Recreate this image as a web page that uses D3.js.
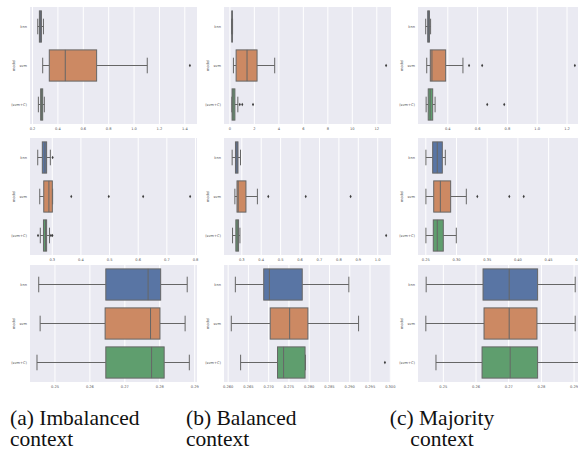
<!DOCTYPE html>
<html>
<head>
<meta charset="utf-8">
<script src="https://cdn.jsdelivr.net/npm/d3@7/dist/d3.min.js"></script>
<style>
  html, body { margin: 0; padding: 0; background: #ffffff; }
  svg { display: block; }
</style>
</head>
<body>
<svg id="chart" width="578" height="453"></svg>
<script>
// Categories shown on every panel's y axis
const categories = ["knn", "svm", "(svm+C)"];
const axisTitle = "model";
const palette = ["#5975a4", "#cc8963", "#5f9e6e"];

// Box statistics per category: [lower whisker, Q1, median, Q3, upper whisker]
// Row 1
const statsA1 = [[0.245, 0.258, 0.265, 0.274, 0.290], [0.284, 0.336, 0.462, 0.709, 1.108], [0.250, 0.268, 0.276, 0.284, 0.297]];
const fliersA1 = [[], [1.444], []];
const ticksA1 = [0.2, 0.4, 0.6, 0.8, 1.0, 1.2, 1.4];
const domainA1 = [0.184, 1.50];

const statsB1 = [[0.18, 0.20, 0.22, 0.24, 0.26], [0.33, 0.55, 1.44, 2.26, 3.70], [0.20, 0.22, 0.30, 0.45, 0.69]];
const fliersB1 = [[], [12.8], [0.85, 1.05, 1.93]];
const ticksB1 = [0, 2, 4, 6, 8, 10, 12];
const domainB1 = [-0.44, 13.2];

const statsC1 = [[0.255, 0.269, 0.272, 0.280, 0.288], [0.262, 0.286, 0.297, 0.389, 0.505], [0.258, 0.272, 0.285, 0.302, 0.318]];
const fliersC1 = [[], [0.546, 0.634, 1.256], [0.668, 0.782]];
const ticksC1 = [0.4, 0.6, 0.8, 1.0, 1.2];
const domainC1 = [0.2034, 1.324];

// Row 2
const statsA2 = [[0.251, 0.267, 0.276, 0.282, 0.295], [0.258, 0.272, 0.290, 0.302, 0.303], [0.260, 0.271, 0.278, 0.282, 0.292]];
const fliersA2 = [[0.303], [0.368, 0.499, 0.619, 0.783], [0.252, 0.297, 0.302]];
const ticksA2 = [0.3, 0.4, 0.5, 0.6, 0.7, 0.8];
const domainA2 = [0.224, 0.807];

const statsB2 = [[0.253, 0.270, 0.278, 0.283, 0.296], [0.267, 0.278, 0.284, 0.324, 0.383], [0.255, 0.272, 0.279, 0.286, 0.293]];
const fliersB2 = [[], [0.439, 0.632, 0.863], [1.046]];
const ticksB2 = [0.3, 0.4, 0.5, 0.6, 0.7, 0.8, 0.9, 1.0];
const domainB2 = [0.211, 1.071];

const statsC2 = [[0.251, 0.262, 0.2695, 0.2777, 0.2826], [0.251, 0.2637, 0.2745, 0.2913, 0.3168], [0.251, 0.263, 0.2695, 0.2793, 0.3005]];
const fliersC2 = [[], [0.3347, 0.3868, 0.4103], []];
const ticksC2 = [0.25, 0.30, 0.35, 0.40, 0.45, 0.50];
const domainC2 = [0.2381, 0.5101];

// Row 3
const statsA3 = [[0.2455, 0.2647, 0.2768, 0.2804, 0.2880], [0.2459, 0.2645, 0.2775, 0.2802, 0.2874], [0.2450, 0.2647, 0.2778, 0.2814, 0.2886]];
const fliersA3 = [[], [], []];
const ticksA3 = [0.25, 0.26, 0.27, 0.28, 0.29];
const domainA3 = [0.243, 0.2908];

const statsB3 = [[0.2619, 0.2689, 0.2703, 0.2784, 0.2899], [0.2609, 0.2705, 0.2753, 0.2798, 0.2923], [0.2632, 0.2723, 0.2738, 0.2791, 0.2792]];
const fliersB3 = [[], [], [0.2988]];
const ticksB3 = [0.260, 0.265, 0.270, 0.275, 0.280, 0.285, 0.290, 0.295, 0.300];
const domainB3 = [0.2591, 0.3003];

const statsC3 = [[0.2449, 0.2623, 0.2703, 0.2790, 0.2905], [0.2448, 0.2626, 0.2703, 0.2788, 0.2905], [0.2479, 0.2620, 0.2706, 0.2790, 0.2925]];
const fliersC3 = [[], [], []];
const ticksC3 = [0.25, 0.26, 0.27, 0.28, 0.29];
const domainC3 = [0.2424, 0.2935];

// Column captions
const captions = [["(a) Imbalanced", "context"], ["(b) Balanced", "context"], ["(c) Majority", "context"]];

// Panel grid (row-major), with tick label formats
const panels = [
  {row: 0, col: 0, stats: statsA1, fliers: fliersA1, ticks: ticksA1, domain: domainA1, fmt: ".1f"},
  {row: 0, col: 1, stats: statsB1, fliers: fliersB1, ticks: ticksB1, domain: domainB1, fmt: "d"},
  {row: 0, col: 2, stats: statsC1, fliers: fliersC1, ticks: ticksC1, domain: domainC1, fmt: ".1f"},
  {row: 1, col: 0, stats: statsA2, fliers: fliersA2, ticks: ticksA2, domain: domainA2, fmt: ".1f"},
  {row: 1, col: 1, stats: statsB2, fliers: fliersB2, ticks: ticksB2, domain: domainB2, fmt: ".1f"},
  {row: 1, col: 2, stats: statsC2, fliers: fliersC2, ticks: ticksC2, domain: domainC2, fmt: ".2f"},
  {row: 2, col: 0, stats: statsA3, fliers: fliersA3, ticks: ticksA3, domain: domainA3, fmt: ".2f"},
  {row: 2, col: 1, stats: statsB3, fliers: fliersB3, ticks: ticksB3, domain: domainB3, fmt: ".3f"},
  {row: 2, col: 2, stats: statsC3, fliers: fliersC3, ticks: ticksC3, domain: domainC3, fmt: ".2f"}
];

const colX = [30, 224, 418];
const rowY = [7, 138, 265];
const plotW = 167, plotH = 117;
const lineColor = "#666666";
const tinyFont = "'DejaVu Sans', sans-serif";

const svg = d3.select("#chart");

panels.forEach(p => {
  const g = svg.append("g").attr("transform", `translate(${colX[p.col]},${rowY[p.row]})`);
  const x = d3.scaleLinear().domain(p.domain).range([0, plotW]);
  const y = d3.scaleBand().domain(categories).range([0, plotH]).paddingInner(0).paddingOuter(0);
  const boxH = y.bandwidth() * 0.8;

  // Plot background
  g.append("rect").attr("width", plotW).attr("height", plotH).attr("fill", "#eaeaf2");

  // Vertical grid lines
  g.append("g")
    .attr("transform", `translate(0,${plotH})`)
    .call(d3.axisBottom(x).tickValues(p.ticks).tickSize(-plotH).tickFormat(""))
    .call(a => a.select(".domain").remove())
    .call(a => a.selectAll("line").attr("stroke", "#ffffff").attr("stroke-width", 1));

  // X tick labels
  g.append("g")
    .attr("transform", `translate(0,${plotH})`)
    .call(d3.axisBottom(x).tickValues(p.ticks).tickSize(0).tickPadding(3).tickFormat(d3.format(p.fmt)))
    .call(a => a.select(".domain").remove())
    .call(a => a.selectAll("text").attr("font-size", 3.6).attr("font-family", tinyFont).attr("fill", "#555"));

  // Y category labels
  g.append("g")
    .call(d3.axisLeft(y).tickSize(0).tickPadding(3))
    .call(a => a.select(".domain").remove())
    .call(a => a.selectAll("text").attr("font-size", 3.6).attr("font-family", tinyFont).attr("fill", "#555"));

  // Y axis title
  g.append("text")
    .attr("transform", `translate(-15,${plotH / 2}) rotate(-90)`)
    .attr("text-anchor", "middle")
    .attr("font-size", 3.6).attr("font-family", tinyFont).attr("fill", "#555")
    .text(axisTitle);

  categories.forEach((c, i) => {
    const [lo, q1, med, q3, hi] = p.stats[i];
    const cy = y(c) + y.bandwidth() / 2;
    const top = cy - boxH / 2;
    const bg = g.append("g");
    // whiskers
    bg.append("line").attr("x1", x(lo)).attr("x2", x(q1)).attr("y1", cy).attr("y2", cy)
      .attr("stroke", lineColor).attr("stroke-width", 1);
    bg.append("line").attr("x1", x(q3)).attr("x2", x(hi)).attr("y1", cy).attr("y2", cy)
      .attr("stroke", lineColor).attr("stroke-width", 1);
    // caps
    [lo, hi].forEach(v => {
      bg.append("line").attr("x1", x(v)).attr("x2", x(v))
        .attr("y1", cy - boxH / 4).attr("y2", cy + boxH / 4)
        .attr("stroke", lineColor).attr("stroke-width", 1);
    });
    // box
    bg.append("rect")
      .attr("x", x(q1)).attr("y", top)
      .attr("width", Math.max(0.5, x(q3) - x(q1))).attr("height", boxH)
      .attr("fill", palette[i]).attr("stroke", lineColor).attr("stroke-width", 1);
    // median
    bg.append("line").attr("x1", x(med)).attr("x2", x(med)).attr("y1", top).attr("y2", top + boxH)
      .attr("stroke", lineColor).attr("stroke-width", 1);
    // fliers
    p.fliers[i].forEach(v => {
      bg.append("path")
        .attr("transform", `translate(${x(v)},${cy})`)
        .attr("d", d3.symbol(d3.symbolDiamond, 4)())
        .attr("fill", "#3d3d3d");
    });
  });
});

// Captions under each column
const capFont = "'Liberation Serif', 'Times New Roman', serif";
const capPos = [{x: 10, anchor: "start"}, {x: 186, anchor: "start"}, {x: 442, anchor: "middle"}];
captions.forEach((lines, i) => {
  lines.forEach((t, j) => {
    svg.append("text")
      .attr("x", capPos[i].x).attr("y", 425 + j * 21)
      .attr("text-anchor", capPos[i].anchor)
      .attr("font-family", capFont).attr("font-size", 21.5).attr("fill", "#111")
      .text(t);
  });
});
</script>
</body>
</html>
